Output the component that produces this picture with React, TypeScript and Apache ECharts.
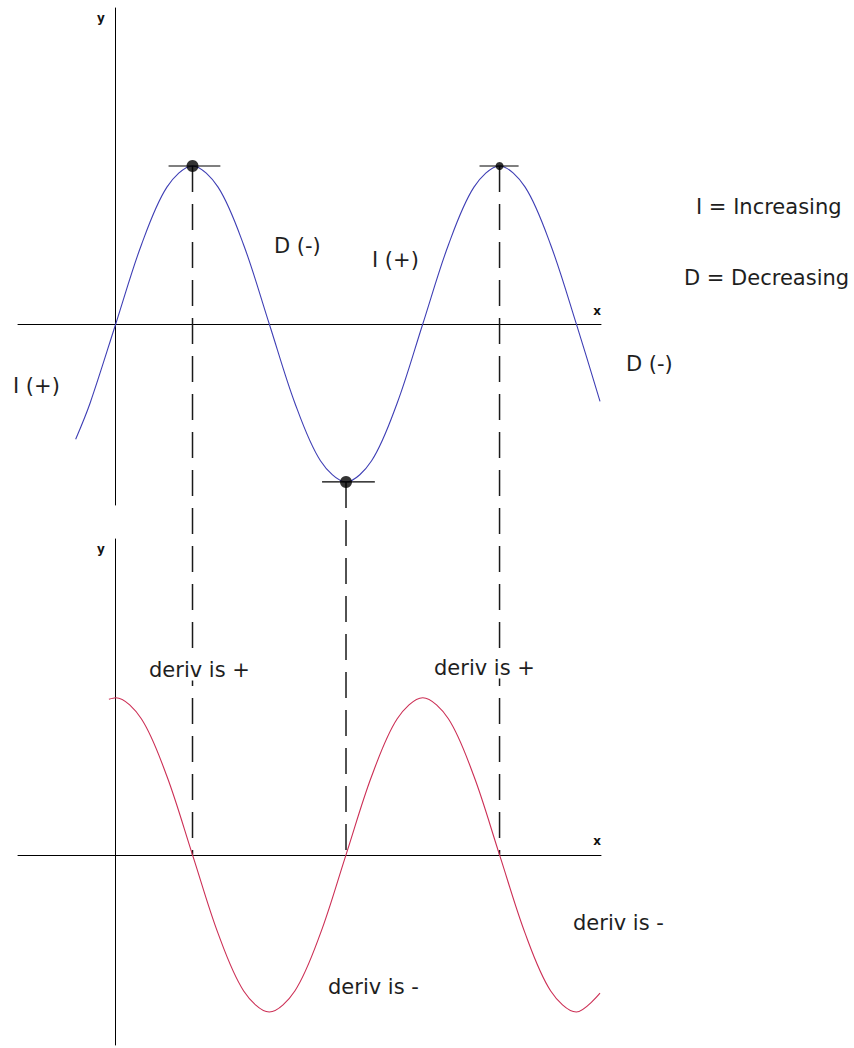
import React, { useEffect, useRef } from "react";
import * as echarts from "echarts";

// f(x) = sin-like curve (top) (x in radians)
const blueX = [-0.82, -0.524, 0, 0.524, 1.047, 1.571, 2.094, 2.618, 3.142, 3.665, 4.189, 4.712, 5.236, 5.76, 6.283, 6.807, 7.33, 7.854, 8.378, 8.901, 9.425, 9.91];
const blueY = [-0.73, -0.5, 0, 0.5, 0.866, 1, 0.866, 0.5, 0, -0.5, -0.866, -1, -0.866, -0.5, 0, 0.5, 0.866, 1, 0.866, 0.5, 0, -0.49];
// f'(x) = cos-like curve (bottom)
const redX = [-0.14, 0, 0.524, 1.047, 1.571, 2.094, 2.618, 3.142, 3.665, 4.189, 4.712, 5.236, 5.76, 6.283, 6.807, 7.33, 7.854, 8.378, 8.901, 9.425, 9.91];
const redY = [0.99, 1, 0.866, 0.5, 0, -0.5, -0.866, -1, -0.866, -0.5, 0, 0.5, 0.866, 1, 0.866, 0.5, 0, -0.5, -0.866, -1, -0.88];

// extrema of f (horizontal tangents)
const extremaX = [1.571, 4.712, 7.854];
const extremaY = [1, -1, 1];
const tangentLeft = [0.49, 0.49, 0.41];
const tangentRight = [0.57, 0.59, 0.39];

// axis ranges
const topXRange = [-2.0, 9.93];
const topYRange = [-1.146, 2.0];
const botYRange = [-1.21, 2.01];

const FONT = '"DejaVu Sans", sans-serif';
const dotSizes = [12, 12, 8];

const annotations = [
  { text: "I = Increasing", x: 696, y: 207 },
  { text: "D = Decreasing", x: 684, y: 278 },
  { text: "D (-)", x: 274, y: 246 },
  { text: "I (+)", x: 372, y: 260 },
  { text: "D (-)", x: 626, y: 364 },
  { text: "I (+)", x: 13, y: 386 },
  { text: "deriv is +", x: 149, y: 670 },
  { text: "deriv is +", x: 434, y: 668 },
  { text: "deriv is -", x: 573, y: 923 },
  { text: "deriv is -", x: 328, y: 987 },
];
const axisNames = [
  { text: "y", x: 101, y: 18 },
  { text: "x", x: 597, y: 311 },
  { text: "y", x: 101, y: 549 },
  { text: "x", x: 597, y: 841 },
];

const axisCommon = {
  type: "value" as const,
  axisLine: { show: true, onZero: true, lineStyle: { color: "#000", width: 1 } },
  axisTick: { show: false },
  axisLabel: { show: false },
  splitLine: { show: false },
};

export default function App() {
  const ref = useRef<HTMLDivElement>(null);
  useEffect(() => {
    const chart = echarts.init(ref.current!, null, { renderer: "svg" });
    const series: any[] = [
      {
        type: "line",
        xAxisIndex: 0,
        yAxisIndex: 0,
        data: blueX.map((x, i) => [x, blueY[i]]),
        smooth: 0.33,
        symbol: "none",
        lineStyle: { color: "#3f3fb5", width: 1.1 },
        z: 3,
      },
      {
        type: "line",
        xAxisIndex: 1,
        yAxisIndex: 1,
        data: redX.map((x, i) => [x, redY[i]]),
        smooth: 0.33,
        symbol: "none",
        lineStyle: { color: "#cc2f55", width: 1.1 },
        z: 3,
      },
      ...extremaX.map((x, i) => ({
        type: "line",
        xAxisIndex: 0,
        yAxisIndex: 0,
        data: [
          [x - tangentLeft[i], extremaY[i]],
          [x + tangentRight[i], extremaY[i]],
        ],
        symbol: "none",
        lineStyle: { color: "#000", width: 1.2 },
        z: 4,
      })),
      {
        type: "scatter",
        xAxisIndex: 0,
        yAxisIndex: 0,
        data: extremaX.map((x, i) => ({ value: [x, extremaY[i]], symbolSize: dotSizes[i] })),
        itemStyle: { color: "#000" },
        z: 5,
      },
    ];
    chart.setOption({
      animation: false,
      backgroundColor: "#fff",
      grid: [
        { left: 18, top: 8, width: 583, height: 497 },
        { left: 18, top: 539, width: 583, height: 506 },
      ],
      xAxis: [
        { ...axisCommon, gridIndex: 0, min: topXRange[0], max: topXRange[1] },
        { ...axisCommon, gridIndex: 1, min: topXRange[0], max: topXRange[1] },
      ],
      yAxis: [
        { ...axisCommon, gridIndex: 0, min: topYRange[0], max: topYRange[1] },
        { ...axisCommon, gridIndex: 1, min: botYRange[0], max: botYRange[1] },
      ],
      series,
    });

    const lines = extremaX.map((x, i) => {
      const p0 = chart.convertToPixel({ gridIndex: 0 } as any, [x, extremaY[i]]) as number[];
      const p1 = chart.convertToPixel({ gridIndex: 1 } as any, [x, 0]) as number[];
      return {
        type: "line",
        shape: { x1: p0[0], y1: p0[1], x2: p1[0], y2: p1[1] },
        style: { stroke: "#1a1a1a", lineWidth: 1.5, lineDash: [26, 12] },
        z: 1,
      };
    });
    const texts = annotations.map((a) => ({
      type: "text",
      x: a.x,
      y: a.y,
      z: 100,
      style: {
        text: a.text,
        font: `21px ${FONT}`,
        fill: "#1e1e1e",
        align: "left",
        verticalAlign: "middle",
        textAlign: "left",
        textVerticalAlign: "middle",
        backgroundColor: "#fff",
      },
    }));
    const names = axisNames.map((a) => ({
      type: "text",
      x: a.x,
      y: a.y,
      z: 100,
      style: {
        text: a.text,
        font: `bold 12px ${FONT}`,
        fill: "#111",
        align: "center",
        verticalAlign: "middle",
        textAlign: "center",
        textVerticalAlign: "middle",
      },
    }));
    chart.setOption({ graphic: [...lines, ...texts, ...names] });
    return () => chart.dispose();
  }, []);
  return (
    <div
      ref={ref}
      style={{ position: "fixed", left: 0, top: 0, width: 854, height: 1048, background: "#fff" }}
    />
  );
}
